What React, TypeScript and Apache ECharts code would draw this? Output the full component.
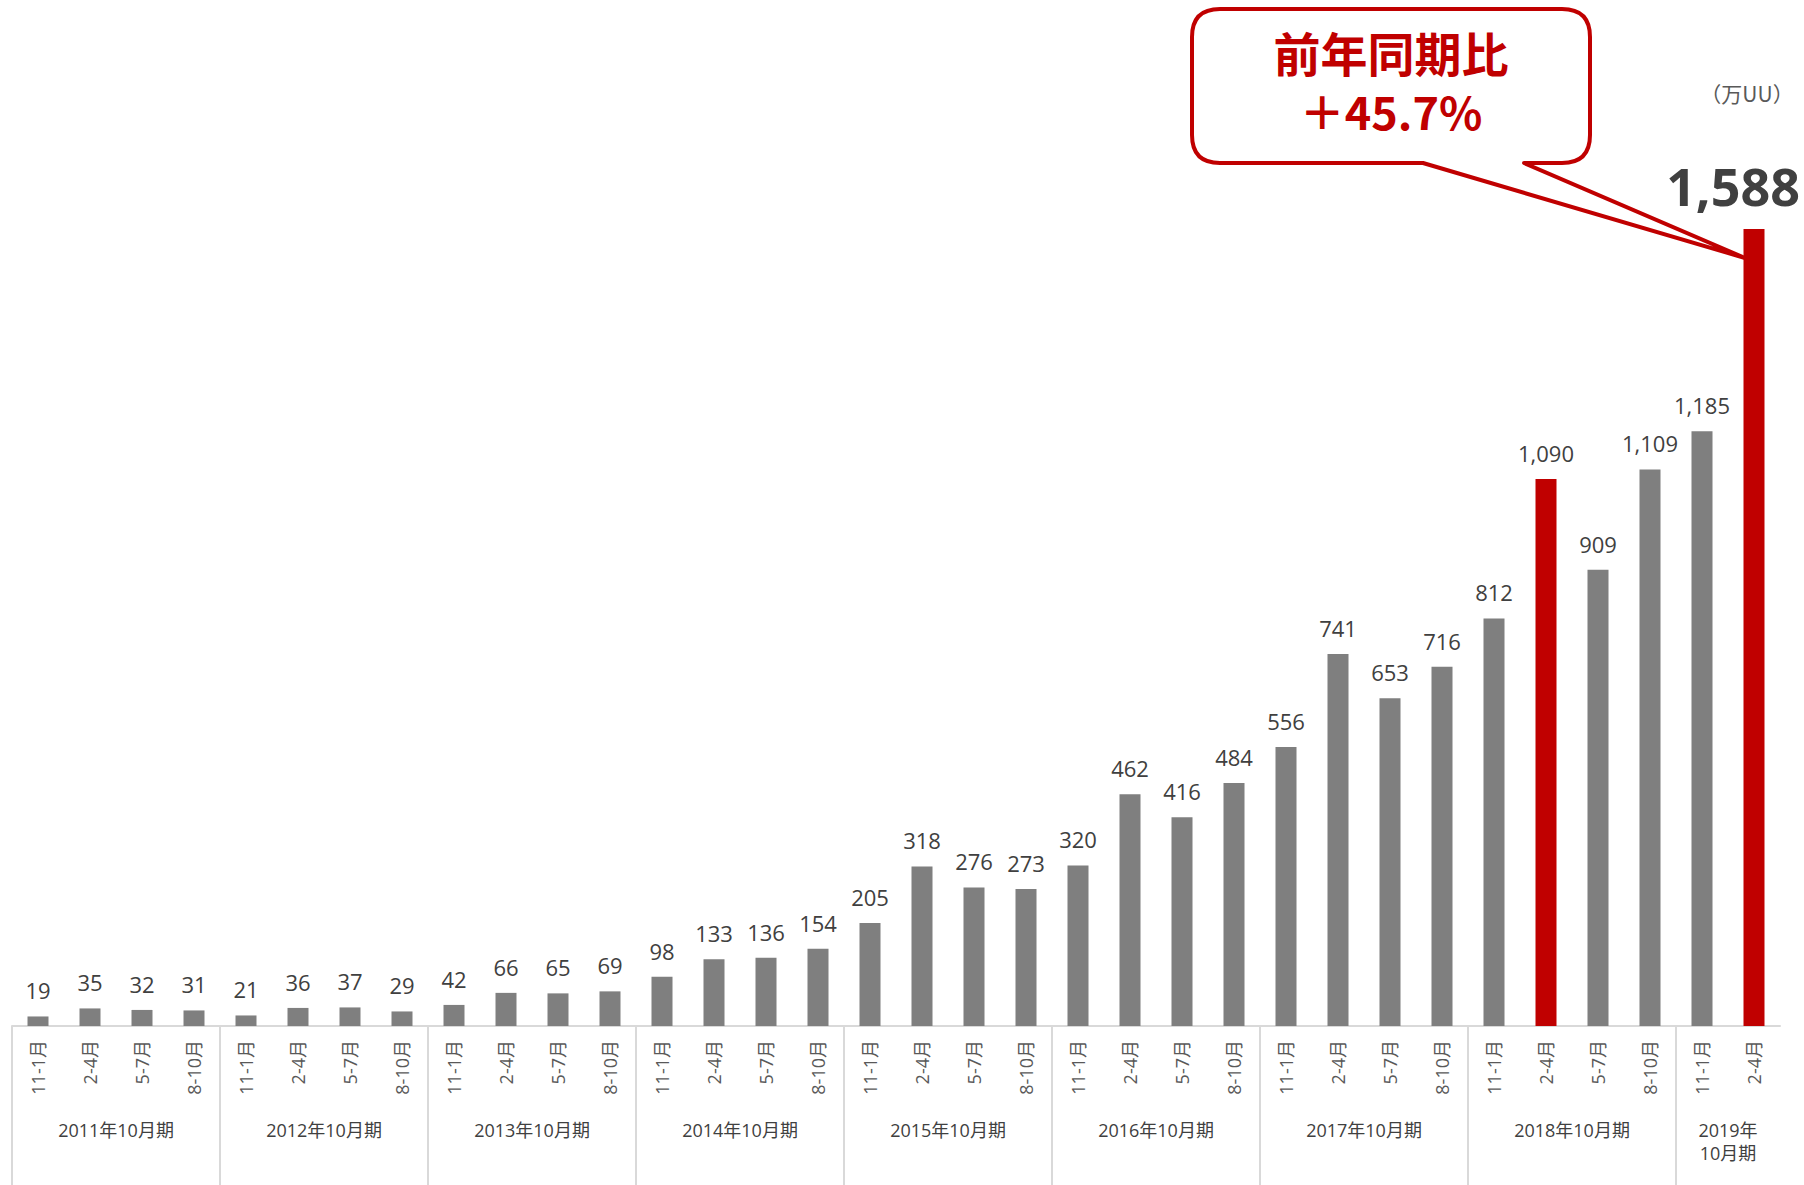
import React, { useEffect, useRef } from "react";
import * as echarts from "echarts";

const categories = [
  "11-1月", "2-4月", "5-7月", "8-10月",
  "11-1月", "2-4月", "5-7月", "8-10月",
  "11-1月", "2-4月", "5-7月", "8-10月",
  "11-1月", "2-4月", "5-7月", "8-10月",
  "11-1月", "2-4月", "5-7月", "8-10月",
  "11-1月", "2-4月", "5-7月", "8-10月",
  "11-1月", "2-4月", "5-7月", "8-10月",
  "11-1月", "2-4月", "5-7月", "8-10月",
  "11-1月", "2-4月",
];

const values = [
  19, 35, 32, 31,
  21, 36, 37, 29,
  42, 66, 65, 69,
  98, 133, 136, 154,
  205, 318, 276, 273,
  320, 462, 416, 484,
  556, 741, 653, 716,
  812, 1090, 909, 1109,
  1185, 1588,
];

const highlightIndices = [29, 33];
const latestIndex = 33;

const groupStarts = [0, 4, 8, 12, 16, 20, 24, 28, 32];
const groupCounts = [4, 4, 4, 4, 4, 4, 4, 4, 2];
const groupLabels = [
  "2011年10月期", "2012年10月期", "2013年10月期", "2014年10月期",
  "2015年10月期", "2016年10月期", "2017年10月期", "2018年10月期",
  "2019年\n10月期",
];

const unitLabel = "（万UU）";
const calloutTitle = "前年同期比";
const calloutValue = "＋45.7%";

const FONT = "'Open Sans', 'Noto Sans CJK JP', sans-serif";
const CJK_FONT = "'Noto Sans CJK JP', sans-serif";
const GRAY = "#7f7f7f";
const RED = "#c00000";

let registered = false;
function registerCallout() {
  if (registered) return;
  const d =
    "M1220 9 H1562 Q1590 9 1590 37 V135 Q1590 163 1562 163 H1524 L1745 258 L1423 163 H1220 Q1192 163 1192 135 V37 Q1192 9 1220 9 Z";
  echarts.graphic.registerShape("callout", echarts.graphic.extendPath(d, {}));
  registered = true;
}

export default function App() {
  const ref = useRef<HTMLDivElement>(null);

  useEffect(() => {
    if (!ref.current) return;
    registerCallout();
    const chart = echarts.init(ref.current, undefined, { renderer: "svg" });

    const barData = values.map((v, i) => {
      const item: any = {
        value: v,
        itemStyle: { color: highlightIndices.includes(i) ? RED : GRAY },
      };
      if (i === latestIndex) {
        item.label = {
          fontSize: 52,
          fontWeight: "bold",
          color: "#404040",
          offset: [-21, 0],
          distance: 18,
        };
      }
      return item;
    });

    chart.setOption({
      animation: false,
      backgroundColor: "#ffffff",
      grid: { left: 12, right: 24, top: 229, bottom: 159, containLabel: false },
      xAxis: {
        type: "category",
        data: categories,
        axisLine: { show: true, lineStyle: { color: "#d9d9d9", width: 2 } },
        axisTick: { show: false },
        axisLabel: {
          interval: 0,
          rotate: 90,
          margin: 14,
          fontSize: 18,
          color: "#595959",
          fontFamily: FONT,
        },
      },
      yAxis: { type: "value", min: 0, max: 1588, show: false },
      series: [
        {
          type: "bar",
          data: barData,
          barWidth: 21,
          label: {
            show: true,
            position: "top",
            distance: 15,
            fontSize: 22,
            color: "#404040",
            fontFamily: FONT,
            formatter: (p: any) => Number(p.value).toLocaleString("en-US"),
          },
        },
        {
          type: "custom",
          silent: true,
          clip: false,
          encode: { x: 0, y: 1 },
          data: groupStarts.map((s) => [s, 0]),
          renderItem: (params: any, api: any) => {
            const idx = params.dataIndex;
            const start = api.value(0);
            const band = api.size([1, 0])[0];
            const base = api.coord([start, 0]);
            const x0 = base[0] - band / 2;
            const y0 = base[1];
            return {
              type: "group",
              children: [
                {
                  type: "line",
                  shape: { x1: x0, y1: y0, x2: x0, y2: y0 + 160 },
                  style: { stroke: "#d9d9d9", lineWidth: 2 },
                },
                {
                  type: "text",
                  x: x0 + (band * groupCounts[idx]) / 2,
                  y: y0 + 92,
                  style: {
                    text: groupLabels[idx],
                    fill: "#404040",
                    fontSize: 18,
                    fontFamily: FONT,
                    lineHeight: 23,
                    align: "center",
                    verticalAlign: "top",
                  },
                },
              ],
            };
          },
        },
      ],
      graphic: [
        {
          type: "callout",
          x: 0,
          y: 0,
          style: { fill: "#ffffff", stroke: RED, lineWidth: 4, lineJoin: "round" },
        },
        {
          type: "text",
          x: 1391,
          y: 51,
          style: {
            text: calloutTitle,
            fill: RED,
            fontSize: 47,
            lineHeight: 50,
            fontWeight: "bold",
            fontFamily: CJK_FONT,
            align: "center",
            verticalAlign: "middle",
          },
        },
        {
          type: "text",
          x: 1391,
          y: 110,
          style: {
            text: calloutValue,
            fill: RED,
            fontSize: 45,
            lineHeight: 48,
            fontWeight: "bold",
            fontFamily: CJK_FONT,
            align: "center",
            verticalAlign: "middle",
          },
        },
        {
          type: "text",
          x: 1747,
          y: 93,
          style: {
            text: unitLabel,
            fill: "#595959",
            fontSize: 21,
            fontFamily: CJK_FONT,
            align: "center",
            verticalAlign: "middle",
          },
        },
      ],
    });

    return () => chart.dispose();
  }, []);

  return (
    <div
      ref={ref}
      style={{ position: "fixed", left: 0, top: 0, width: 1804, height: 1185 }}
    />
  );
}
